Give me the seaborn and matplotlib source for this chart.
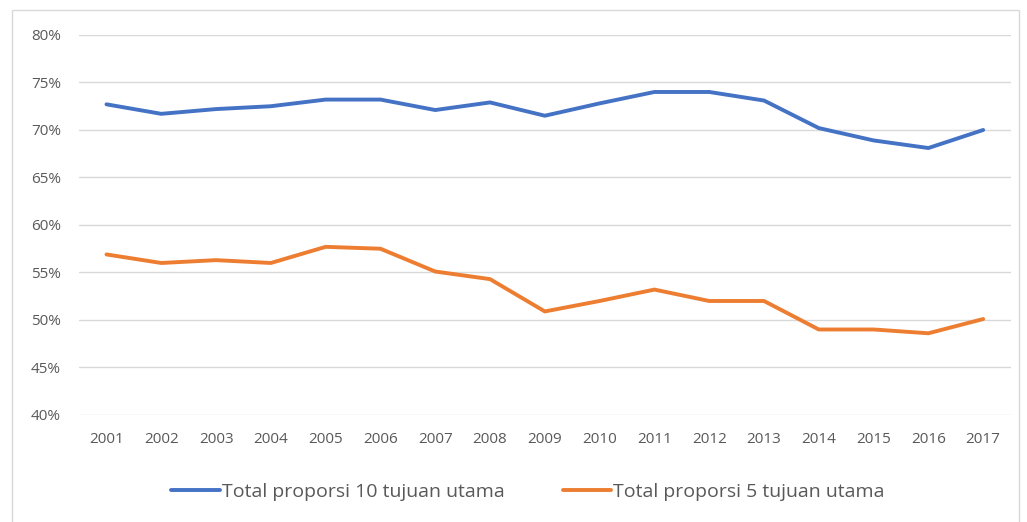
import numpy as np
import pandas as pd
import matplotlib
matplotlib.use("Agg")
import matplotlib.pyplot as plt
import seaborn as sns
from matplotlib.patches import Rectangle
from matplotlib.ticker import PercentFormatter

years = list(range(2001, 2018))
top10 = [72.7, 71.7, 72.2, 72.5, 73.2, 73.2, 72.1, 72.9, 71.5, 72.8, 74.0, 74.0, 73.1, 70.2, 68.9, 68.1, 70.0]
top5 = [56.9, 56.0, 56.3, 56.0, 57.7, 57.5, 55.1, 54.3, 50.9, 52.0, 53.2, 52.0, 52.0, 49.0, 49.0, 48.6, 50.1]
series_names = ["Total proporsi 10 tujuan utama", "Total proporsi 5 tujuan utama"]
yticks = [40, 45, 50, 55, 60, 65, 70, 75, 80]

df = pd.DataFrame({
    "Tahun": years * 2,
    "Proporsi": top10 + top5,
    "Seri": [series_names[0]] * len(years) + [series_names[1]] * len(years),
})

sns.set_theme(style="white")
plt.rcParams["font.family"] = ["Open Sans", "DejaVu Sans"]

fig = plt.figure(figsize=(10.27, 5.22), dpi=100)
ax = fig.add_axes([0.077, 0.205, 0.907, 0.728])

sns.lineplot(data=df, x="Tahun", y="Proporsi", hue="Seri", ax=ax,
             palette=["#4472C4", "#ED7D31"], linewidth=2.8, legend=True)

ax.set_xlim(2000.5, 2017.5)
ax.set_ylim(40, 80)
ax.set_yticks(yticks)
ax.yaxis.set_major_formatter(PercentFormatter(decimals=0))
ax.set_xticks(years)
ax.set_xticklabels([str(y) for y in years])
ax.grid(axis="y", color="#D9D9D9", linewidth=1)
ax.set_axisbelow(True)
for s in ax.spines.values():
    s.set_visible(False)
ax.tick_params(axis="both", length=0, labelsize=11, labelcolor="#595959")
ax.tick_params(axis="y", pad=13)
ax.tick_params(axis="x", pad=12)
ax.set_xlabel("")
ax.set_ylabel("")

handles, labels = ax.get_legend_handles_labels()
ax.legend_.remove()
fig.legend(handles, labels, loc="center", bbox_to_anchor=(0.514, 0.058), ncol=2,
           frameon=False, fontsize=14, labelcolor="#595959", handlelength=2.5,
           handletextpad=0.1, columnspacing=3.0)

fig.patches.append(Rectangle((12 / 1027, -0.01), (1019 - 12) / 1027, (522 - 10) / 522 + 0.01,
                             transform=fig.transFigure, fill=False,
                             edgecolor="#D9D9D9", linewidth=1))

fig.savefig("out.png", dpi=100)
